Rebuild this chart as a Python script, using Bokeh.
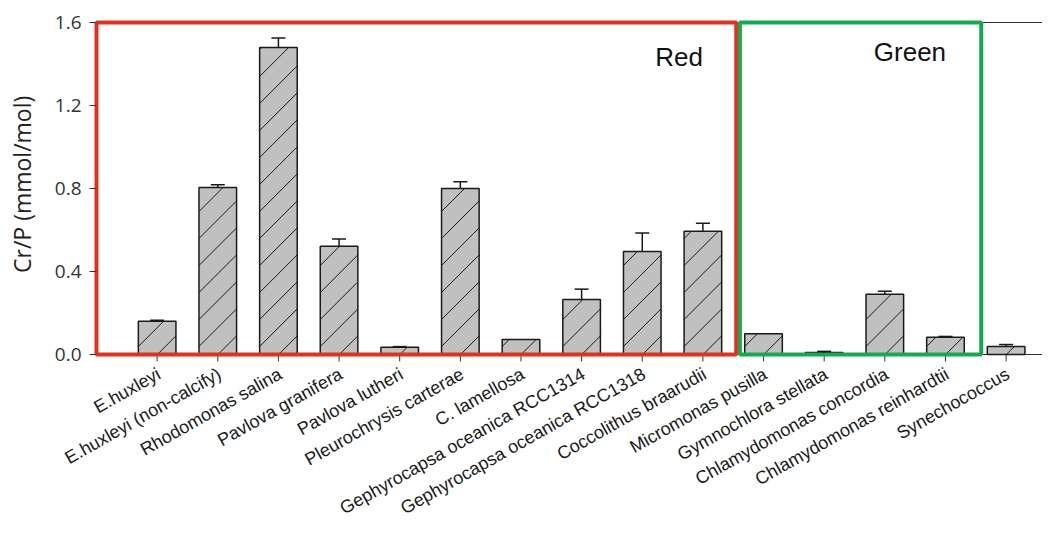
import math
from bokeh.plotting import figure
from bokeh.models import (Range1d, FixedTicker, ColumnDataSource, Whisker, TeeHead,
                          NumeralTickFormatter, LinearAxis)
from bokeh.core.properties import value
from bokeh.embed import file_html
from bokeh.resources import INLINE

# ---------------- data ----------------
categories = [
    "E.huxleyi", "E.huxleyi (non-calcify)", "Rhodomonas salina", "Pavlova granifera",
    "Pavlova lutheri", "Pleurochrysis carterae", "C. lamellosa",
    "Gephyrocapsa oceanica RCC1314", "Gephyrocapsa oceanica RCC1318",
    "Coccolithus braarudii", "Micromonas pusilla", "Gymnochlora stellata",
    "Chlamydomonas concordia", "Chlamydomonas reinhardtii", "Synechococcus",
]
cr_p = [0.160, 0.805, 1.480, 0.522, 0.035, 0.800, 0.072, 0.265, 0.496, 0.594,
        0.100, 0.010, 0.290, 0.083, 0.038]
cr_p_err = [0.005, 0.013, 0.045, 0.035, 0.003, 0.033, 0.0, 0.050, 0.090, 0.039,
            0.0, 0.005, 0.015, 0.004, 0.010]

y_ticks = [0.0, 0.4, 0.8, 1.2, 1.6]
y_title = "Cr/P (mmol/mol)"

groups = ["Red", "Green"]
group_first = [0, 10]
group_last = [9, 13]
group_colors = ["#e6301f", "#12ab4f"]
group_top = 1.6

# ---------------- layout / style constants ----------------
W, H = 1042, 520
PX_X = 60.64          # pixels per category
PX_Y = 207.5          # pixels per unit of Cr/P
AXIS_PX = 96          # x pixel of the y axis inside the canvas
ZERO_PX = 354         # y pixel (from top) of value 0
X0 = -1 - AXIS_PX / PX_X
X1 = X0 + W / PX_X
Y1 = ZERO_PX / PX_Y
Y0 = Y1 - H / PX_Y
X_AXIS = -1.0

box_left_pad = [1.0, 0.39]
box_right_pad = [0.55, 0.59]
label_right_pad = [0.55, 0.58]
label_y = [1.432, 1.456]
bar_w = 0.62
tick_px = 7
cat_label_dx = 0.03
cat_label_px = 18
cat_angle = 0.515
hatch_px = 27
hatch_phase = 8
title_px_x = 21
title_y = 0.82

xs = list(range(len(categories)))

p = figure(width=W, height=H,
           x_range=Range1d(X0, X1), y_range=Range1d(Y0, Y1),
           x_axis_location=None, y_axis_location=None,
           output_backend="svg", toolbar_location=None, min_border=0)
p.min_border_left = 0
p.min_border_right = 0
p.min_border_top = 0
p.min_border_bottom = 0
p.outline_line_color = None
p.xgrid.grid_line_color = None
p.ygrid.grid_line_color = None
p.background_fill_color = "white"

# frame lines: top at 1.6 and x axis at 0
p.segment(x0=[X_AXIS, X_AXIS], x1=[X1, X1], y0=[group_top, 0], y1=[group_top, 0],
          line_color="#333333", line_width=1)

# x ticks
p.segment(x0=xs, x1=xs, y0=[0] * len(xs), y1=[-tick_px / PX_Y] * len(xs),
          line_color="#333333", line_width=1)

# bars
src = ColumnDataSource(dict(x=xs, val=cr_p, err=cr_p_err, name=categories))
p.vbar(x="x", top="val", bottom=0, width=bar_w, source=src,
       fill_color="#c0c0c0", line_color="#1a1a1a", line_width=1.5)

# 45-degree hatch lines inside each bar
hx0, hy0, hx1, hy1 = [], [], [], []
bw = bar_w * PX_X
for x, v in zip(xs, cr_p):
    bh = v * PX_Y
    xl = x - bar_w / 2
    k = -int(bw // hatch_px) - 2
    while True:
        c = hatch_phase + k * hatch_px
        if c > bh:
            break
        s = max(0.0, -c)
        e = min(bw, bh - c)
        if e - s > 0.8:
            hx0.append(xl + s / PX_X); hy0.append((s + c) / PX_Y)
            hx1.append(xl + e / PX_X); hy1.append((e + c) / PX_Y)
        k += 1
p.segment(x0=hx0, y0=hy0, x1=hx1, y1=hy1, line_color="#1a1a1a", line_width=1)

# error bars (upper only)
ex = [x for x, e in zip(xs, cr_p_err) if e > 0]
ev = [v for v, e in zip(cr_p, cr_p_err) if e > 0]
eu = [v + e for v, e in zip(cr_p, cr_p_err) if e > 0]
esrc = ColumnDataSource(dict(x=ex, lower=ev, upper=eu))
p.add_layout(Whisker(base="x", lower="lower", upper="upper", source=esrc,
                     dimension="height", line_color="#1a1a1a", line_width=1.5,
                     lower_head=None,
                     upper_head=TeeHead(size=14, line_color="#1a1a1a", line_width=1.5),
                     level="glyph"))

# group boxes
bleft = [f - pad for f, pad in zip(group_first, box_left_pad)]
bright = [l + pad for l, pad in zip(group_last, box_right_pad)]
bsrc = ColumnDataSource(dict(left=bleft, right=bright, bottom=[0, 0],
                             top=[group_top, group_top], color=group_colors))
p.quad(left="left", right="right", bottom="bottom", top="top", source=bsrc,
       fill_color=None, line_color="color", line_width=4)

lx = [r - pad for r, pad in zip(bright, label_right_pad)]
lsrc = ColumnDataSource(dict(x=lx, y=label_y, text=groups))
p.text(x="x", y="y", text="text", source=lsrc, text_align="right",
       text_baseline="alphabetic", text_font=value("Liberation Sans"),
       text_font_size="26px", text_color="#111111")

# category labels, rotated below the x axis
csrc = ColumnDataSource(dict(x=[x + cat_label_dx for x in xs],
                             y=[-cat_label_px / PX_Y] * len(xs), text=categories))
p.text(x="x", y="y", text="text", source=csrc, angle=cat_angle,
       text_align="right", text_baseline="middle",
       text_font=value("Liberation Sans"), text_font_size="18px",
       text_color="#1a1a1a")

# y axis title
tsrc = ColumnDataSource(dict(x=[X0 + title_px_x / PX_X], y=[title_y], text=[y_title]))
p.text(x="x", y="y", text="text", source=tsrc, angle=math.pi / 2,
       text_align="center", text_baseline="middle",
       text_font=value("Open Sans"), text_font_size="23px", text_color="#222222")

# y axis at x = -1 (inside the canvas, takes no border)
yaxis = LinearAxis(fixed_location=X_AXIS, ticker=FixedTicker(ticks=y_ticks),
                   formatter=NumeralTickFormatter(format="0.0"))
yaxis.major_label_text_font = "Open Sans"
yaxis.major_label_text_font_size = "19px"
yaxis.major_label_text_color = "#333333"
yaxis.major_label_standoff = 8
yaxis.major_tick_in = 0
yaxis.major_tick_out = 7
yaxis.minor_tick_line_color = None
yaxis.axis_line_color = None
yaxis.major_tick_line_color = "#333333"
p.add_layout(yaxis, "left")

open("out.html", "w").write(file_html(p, INLINE))
